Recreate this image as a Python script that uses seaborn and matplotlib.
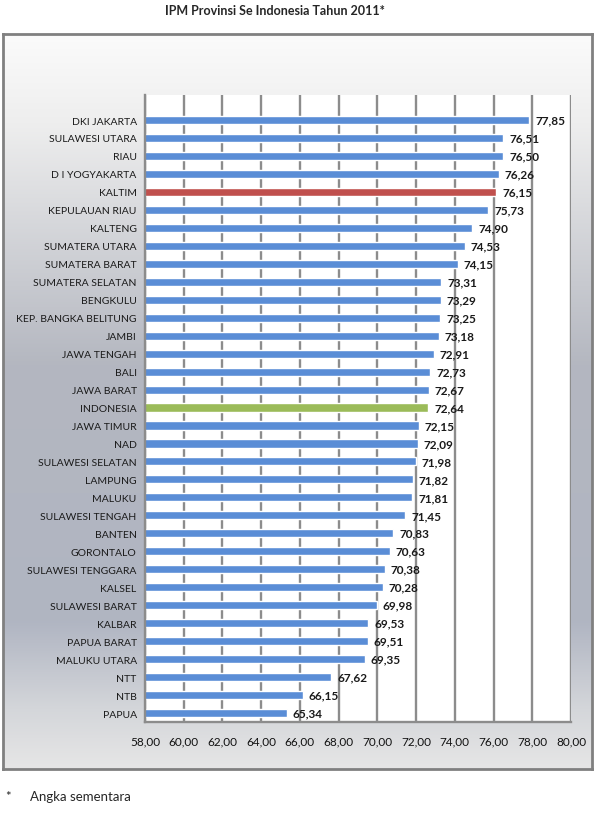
import numpy as np
import matplotlib
matplotlib.use("Agg")
import matplotlib.pyplot as plt
from matplotlib.colors import LinearSegmentedColormap
from matplotlib.ticker import FixedLocator
import seaborn as sns

# data (top to bottom)
provinsi = ["DKI JAKARTA", "SULAWESI UTARA", "RIAU", "D I YOGYAKARTA", "KALTIM",
            "KEPULAUAN RIAU", "KALTENG", "SUMATERA UTARA", "SUMATERA BARAT",
            "SUMATERA SELATAN", "BENGKULU", "KEP. BANGKA BELITUNG", "JAMBI",
            "JAWA TENGAH", "BALI", "JAWA BARAT", "INDONESIA", "JAWA TIMUR", "NAD",
            "SULAWESI SELATAN", "LAMPUNG", "MALUKU", "SULAWESI TENGAH", "BANTEN",
            "GORONTALO", "SULAWESI TENGGARA", "KALSEL", "SULAWESI BARAT", "KALBAR",
            "PAPUA BARAT", "MALUKU UTARA", "NTT", "NTB", "PAPUA"]
ipm = [77.85, 76.51, 76.50, 76.26, 76.15, 75.73, 74.90, 74.53, 74.15, 73.31,
       73.29, 73.25, 73.18, 72.91, 72.73, 72.67, 72.64, 72.15, 72.09, 71.98,
       71.82, 71.81, 71.45, 70.83, 70.63, 70.38, 70.28, 69.98, 69.53, 69.51,
       69.35, 67.62, 66.15, 65.34]
x_ticks = [58, 60, 62, 64, 66, 68, 70, 72, 74, 76, 78, 80]

BLUE = "#5A8DD6"
RED = "#C0504D"
GREEN = "#9BBB59"
GRID = "#8C8C8C"

def bar_color(name):
    if name == "KALTIM":
        return RED
    if name == "INDONESIA":
        return GREEN
    return BLUE

palette = {p: bar_color(p) for p in provinsi}

sns.set_style("white")
plt.rcParams["font.family"] = ["Lato", "DejaVu Sans"]

W, H = 594, 820
fig = plt.figure(figsize=(W / 100, H / 100), dpi=100)
fig.patch.set_facecolor("white")

"""
gradient frame behind the plot
"""
bg = fig.add_axes([3 / W, 1 - 770 / H, 589 / W, 735 / H])
grad_cmap = LinearSegmentedColormap.from_list(
    "frame", [(0.0, "#fbfbfb"), (0.12, "#eeeeee"), (0.45, "#b4b7c0"),
              (0.8, "#b0b5c2"), (0.92, "#d4d6da"), (1.0, "#e6e6e6")])
bg.imshow(np.linspace(0, 1, 256).reshape(-1, 1), aspect="auto", cmap=grad_cmap,
          extent=[0, 1, 0, 1], origin="upper")
bg.set_xticks([])
bg.set_yticks([])
for s in bg.spines.values():
    s.set_color("#808080")
    s.set_linewidth(2)

"""
main bar chart
"""
ax = fig.add_axes([145 / W, 1 - 723 / H, 426 / W, 627 / H])
ax.set_facecolor("white")
ax.set_axisbelow(True)
ax.xaxis.grid(True, color=GRID, linewidth=1.7)

sns.barplot(x=ipm, y=provinsi, hue=provinsi, palette=palette, legend=False,
            width=0.45, saturation=1, orient="h", ax=ax)

n = len(provinsi)
ax.set_xlim(58, 80)
# a little empty room above the first bar, as in the reference
ax.set_ylim(n - 0.5, n - 0.5 - 627 / 17.97)
ax.set_xticks(x_ticks)
ax.set_xticklabels([f"{t:.2f}".replace(".", ",") for t in x_ticks], fontsize=8.5,
                   color="#111111")
ax.tick_params(axis="x", length=4, width=1.7, color=GRID, pad=6)
ax.tick_params(axis="y", which="major", length=0, pad=6, labelsize=7.5,
               labelcolor="#1a1a1a")
ax.yaxis.set_minor_locator(FixedLocator(np.arange(-0.5, n, 1)))
ax.tick_params(axis="y", which="minor", length=3, width=1, color=GRID)
ax.set_xlabel("")
ax.set_ylabel("")

for side in ["top", "right"]:
    ax.spines[side].set_visible(False)
for side in ["left", "bottom"]:
    ax.spines[side].set_color(GRID)
    ax.spines[side].set_linewidth(1.7)

for i, v in enumerate(ipm):
    ax.text(v + 0.3, i, f"{v:.2f}".replace(".", ","), va="center", ha="left",
            fontsize=8.5, fontweight="bold", color="#1a1a1a")

fig.text(275 / W, 1 - 11 / H, "IPM Provinsi Se Indonesia Tahun 2011*", ha="center",
         va="center", fontsize=9, fontweight="bold")
fig.text(5 / W, 1 - 797 / H, "*", ha="left", va="center", fontsize=9.5)
fig.text(30 / W, 1 - 797 / H, "Angka sementara", ha="left", va="center", fontsize=9.5)

fig.savefig("out.png", dpi=100)
